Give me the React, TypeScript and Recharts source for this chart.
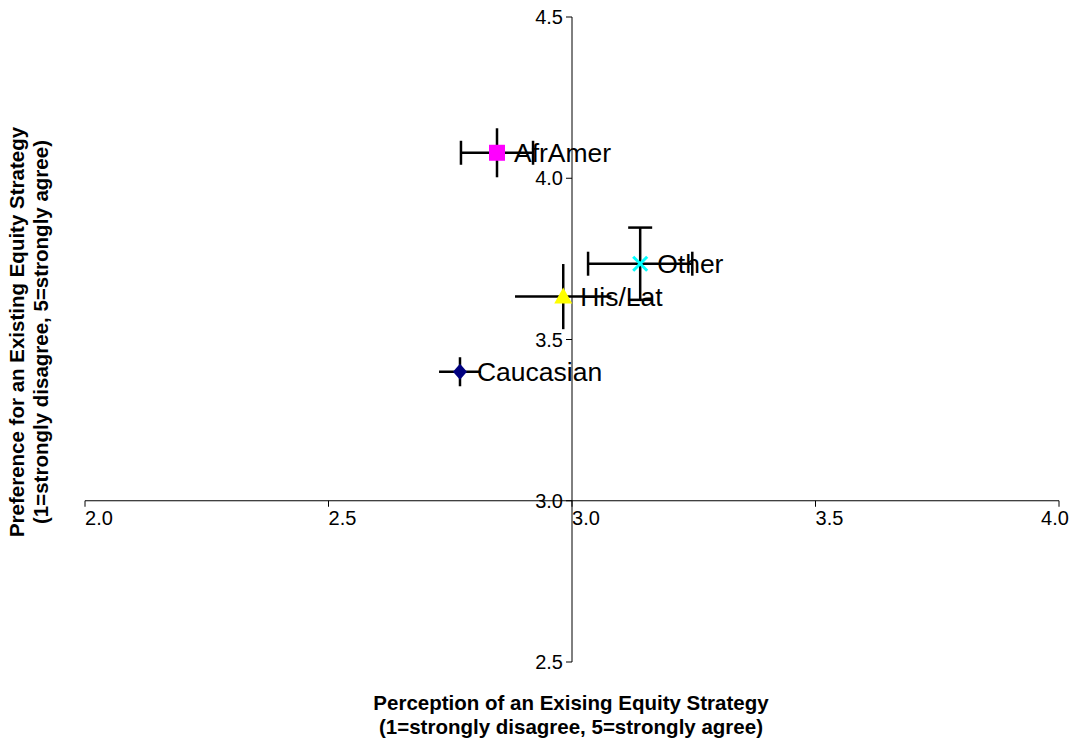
import { ErrorBar, ReferenceLine, Scatter, ScatterChart, XAxis, YAxis } from "recharts";

// values
const groups = ["Caucasian", "AfrAmer", "His/Lat", "Other"];
const perception = [2.77, 2.846, 2.982, 3.14];
const preference = [3.4, 4.079, 3.633, 3.735];
const perceptionErr = [0.043, 0.074, 0.099, 0.107];
const preferenceErr = [0.045, 0.076, 0.101, 0.112];

const xTicks = [2.0, 2.5, 3.0, 3.5, 4.0];
const yTicks = [2.5, 3.0, 3.5, 4.0, 4.5];

const FONT = "'Liberation Sans', Arial, Helvetica, sans-serif";

const points = groups.map((name, i) => ({
  name,
  x: perception[i],
  y: preference[i],
  ex: perceptionErr[i],
  ey: preferenceErr[i],
}));

const xTickData = xTicks.map((v) => ({ x: v, y: 3 }));
const yTickData = yTicks.map((v) => ({ x: 3, y: v }));

type ShapeProps = { cx?: number; cy?: number; payload?: any };

function label(cx: number, cy: number, text: string) {
  return (
    <text x={cx + 17} y={cy} dy="0.36em" fontSize={26.5} fontFamily={FONT} fill="#000">
      {text}
    </text>
  );
}

const markers: Record<string, (cx: number, cy: number) => JSX.Element> = {
  Caucasian: (cx, cy) => (
    <polygon points={`${cx},${cy - 8} ${cx + 7},${cy} ${cx},${cy + 8} ${cx - 7},${cy}`} fill="#000080" />
  ),
  AfrAmer: (cx, cy) => <rect x={cx - 8} y={cy - 8} width={16} height={16} fill="#ff00ff" />,
  "His/Lat": (cx, cy) => (
    <polygon points={`${cx},${cy - 9} ${cx + 9},${cy + 7} ${cx - 9},${cy + 7}`} fill="#ffff00" />
  ),
  Other: (cx, cy) => (
    <g stroke="#00ffff" strokeWidth={3}>
      <line x1={cx - 7} y1={cy - 7} x2={cx + 7} y2={cy + 7} />
      <line x1={cx - 7} y1={cy + 7} x2={cx + 7} y2={cy - 7} />
    </g>
  ),
};

const caps: Record<string, { x: number; y: number }> = {
  Caucasian: { x: 0, y: 0 },
  AfrAmer: { x: 12, y: 0 },
  "His/Lat": { x: 0, y: 0 },
  Other: { x: 12, y: 12 },
};

function PointShape(props: ShapeProps) {
  const { cx = 0, cy = 0, payload } = props;
  return (
    <g>
      {markers[payload.name](cx, cy)}
      {label(cx, cy, payload.name)}
    </g>
  );
}

function XTick(props: ShapeProps) {
  const { cx = 0, cy = 0, payload } = props;
  const last = payload.x === xTicks[xTicks.length - 1];
  return (
    <g>
      <line x1={cx} y1={cy} x2={cx} y2={cy + 6} stroke="#000" />
      <text
        x={cx + (last ? -4 : 14)}
        y={cy + 24}
        textAnchor="middle"
        fontSize={20}
        fontFamily={FONT}
        fill="#000"
      >
        {payload.x.toFixed(1)}
      </text>
    </g>
  );
}

function YTick(props: ShapeProps) {
  const { cx = 0, cy = 0, payload } = props;
  return (
    <g>
      <line x1={cx - 6} y1={cy} x2={cx} y2={cy} stroke="#000" />
      <text x={cx - 9} y={cy} dy="0.36em" textAnchor="end" fontSize={20} fontFamily={FONT} fill="#000">
        {payload.y.toFixed(1)}
      </text>
    </g>
  );
}

export default function App() {
  return (
    <div style={{ position: "relative", width: 1071, height: 735, fontFamily: FONT }}>
      <ScatterChart width={1071} height={735} margin={{ top: 9, right: 20, bottom: 81, left: 77 }}>
        <XAxis type="number" dataKey="x" domain={[2, 4]} hide />
        <YAxis type="number" dataKey="y" domain={[2.5, 4.5]} hide />
        <ReferenceLine x={3} stroke="#000" />
        <ReferenceLine y={3} stroke="#000" />
        <Scatter data={xTickData} shape={XTick} isAnimationActive={false} />
        <Scatter data={yTickData} shape={YTick} isAnimationActive={false} />
        {points.map((p) => (
          <Scatter key={p.name} data={[p]} shape={PointShape} isAnimationActive={false}>
            <ErrorBar dataKey="ex" direction="x" width={caps[p.name].x} stroke="#000" strokeWidth={2.5} />
            <ErrorBar dataKey="ey" direction="y" width={caps[p.name].y} stroke="#000" strokeWidth={2.5} />
          </Scatter>
        ))}
      </ScatterChart>
      <div
        style={{
          position: "absolute",
          left: 263,
          width: 600,
          top: 683,
          textAlign: "center",
          fontSize: 20.5,
          fontWeight: "bold",
          lineHeight: "24px",
        }}
      >
        Perception of an Exising Equity Strategy
        <br />
        (1=strongly disagree, 5=strongly agree)
      </div>
      <div
        style={{
          position: "absolute",
          left: 21 - 300,
          width: 600,
          top: 324 - 24,
          height: 48,
          transform: "rotate(-90deg)",
          textAlign: "center",
          fontSize: 20.5,
          fontWeight: "bold",
          lineHeight: "24px",
        }}
      >
        Preference for an Existing Equity Strategy
        <br />
        (1=strongly disagree, 5=strongly agree)
      </div>
    </div>
  );
}
